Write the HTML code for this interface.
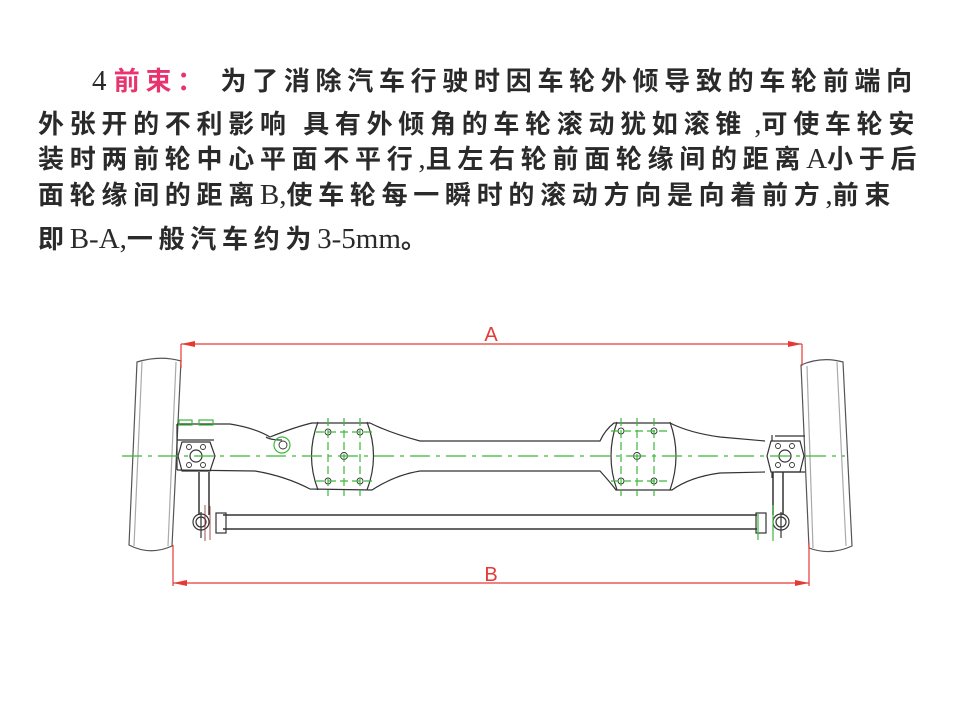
<!DOCTYPE html>
<html><head><meta charset="utf-8"><style>
body{margin:0;width:956px;height:717px;background:#fff;position:relative;overflow:hidden}
.t{position:absolute;left:38px;font-family:"Liberation Serif","Noto Sans CJK SC",serif;font-size:26px;letter-spacing:5.7px;color:#2a2a2a;white-space:nowrap;line-height:30px}
.t .c{font-family:"Noto Sans CJK SC",sans-serif;font-weight:bold}
.s{font-family:"Liberation Serif",serif;font-size:29px;letter-spacing:0}
</style></head><body>
<div class="t" style="top:65px;left:92px"><span class="s">4 </span><span class="c" style="color:#e8336e">前束：</span><span class="c"> 为了消除汽车行驶时因车轮外倾导致的车轮前端向</span></div>
<div class="t" style="top:108px"><span class="c">外张开的不利影响 具有外倾角的车轮滚动犹如滚锥</span><span class="s"> ,</span><span class="c">可使车轮安</span></div>
<div class="t" style="top:143px"><span class="c">装时两前轮中心平面不平行</span><span class="s">,</span><span class="c">且左右轮前面轮缘间的距离</span><span class="s">A</span><span class="c">小于后</span></div>
<div class="t" style="top:179px"><span class="c">面轮缘间的距离</span><span class="s">B,</span><span class="c">使车轮每一瞬时的滚动方向是向着前方</span><span class="s">,</span><span class="c">前束</span></div>
<div class="t" style="top:223px"><span class="c">即</span><span class="s">B-A,</span><span class="c">一般汽车约为</span><span class="s">3-5mm</span><span class="c">。</span></div>
<svg width="956" height="717" style="position:absolute;left:0;top:0" fill="none" stroke-width="1.2">
<g stroke="#555">
<path d="M137,362 Q160,355 181,361 L172,546 Q150,556 129,545 Z"/>
<path d="M142,362 L134,546 M176,362 L168,546" stroke="#aaa"/>
<path d="M801,365 Q822,356 843,362 L852,546 Q830,556 809,548 Z"/>
<path d="M807,366 L813,548 M837,362 L846,546" stroke="#aaa"/>
</g>
<g stroke="#e53935" fill="#e53935">
<line x1="181" y1="344" x2="802" y2="344"/>
<line x1="181" y1="344" x2="181" y2="368"/>
<line x1="802" y1="344" x2="802" y2="366"/>
<path d="M181,344 l14,-3 v6z M802,344 l-14,-3 v6z" stroke="none"/>
<line x1="173" y1="583" x2="809" y2="583"/>
<line x1="173" y1="545" x2="173" y2="586"/>
<line x1="809" y1="543" x2="809" y2="586"/>
<path d="M173,583 l14,-3 v6z M809,583 l-14,-3 v6z" stroke="none"/>
</g>
<text x="491" y="341" font-family="Liberation Sans" font-size="20" fill="#e53935" text-anchor="middle">A</text>
<text x="491" y="581" font-family="Liberation Sans" font-size="20" fill="#e53935" text-anchor="middle">B</text>
<g stroke="#333">
<path d="M177,424 L230,424 Q255,428 270,437 Q295,427 312,423 L370,423 Q390,433 420,441 L600,441 Q605,430 614,423 L670,423 Q690,433 720,437 L765,441"/>
<path d="M177,470 L255,471 Q285,476 310,489 L372,490 Q395,475 420,471 L600,471 Q610,482 616,490 L672,490 Q690,477 720,473 L765,472"/>
<path d="M177,424 V470 M177,440 H214 M266,437 Q270,440 282,440"/>
<path d="M318,422 Q305,456 318,490 M367,422 Q380,456 367,490 M617,422 Q605,456 617,490 M670,422 Q682,456 670,490"/>
<path d="M182,442 L210,442 L215,456 L210,471 L182,471 L178,456Z"/>
<path d="M771,441 L800,441 L804,456 L800,472 L771,472 L767,456Z"/>
<circle cx="196" cy="456" r="6"/><circle cx="785" cy="456" r="6"/>
<g stroke-width="0.9">
<circle cx="189" cy="447" r="2.5"/><circle cx="203" cy="447" r="2.5"/><circle cx="189" cy="465" r="2.5"/><circle cx="203" cy="465" r="2.5"/>
<circle cx="778" cy="446" r="2.5"/><circle cx="792" cy="446" r="2.5"/><circle cx="778" cy="465" r="2.5"/><circle cx="792" cy="465" r="2.5"/>
<circle cx="328" cy="432" r="3"/><circle cx="360" cy="432" r="3"/><circle cx="328" cy="481" r="3"/><circle cx="360" cy="481" r="3"/><circle cx="344" cy="456" r="3.5"/>
<circle cx="621" cy="431" r="3"/><circle cx="654" cy="431" r="3"/><circle cx="621" cy="481" r="3"/><circle cx="654" cy="481" r="3"/><circle cx="637" cy="456" r="3.5"/>
<circle cx="283" cy="445" r="4"/>
</g>
<path d="M775,436 H805 M775,472 H805 M772,435 V441 M772,472 V478"/>
<path d="M199,472 V515 M209,472 V515 M773,472 V515 M783,472 V515" stroke-width="1.5"/>
<path d="M223,515 H757 M223,529 H757" stroke-width="1.5"/>
<rect x="216" y="513" width="10" height="20"/><rect x="756" y="513" width="10" height="20"/>
<circle cx="201" cy="522" r="8"/><circle cx="201" cy="522" r="5"/>
<circle cx="781" cy="522" r="8"/><circle cx="781" cy="522" r="5"/>
<path d="M201,512 V538 M781,512 V538"/>
</g>
<path d="M210,506 V540 M205,505 V541" stroke="#8b2a2a" stroke-width="0.8"/>
<g stroke="#3cb83c">
<line x1="122" y1="456" x2="845" y2="456" stroke-dasharray="20,6,4,6"/>
<path d="M316,432 H372 M316,481 H372 M328,418 V496 M360,418 V496 M344,418 V496" stroke-dasharray="8,4"/>
<path d="M611,431 H668 M611,481 H668 M621,418 V496 M654,418 V496 M637,418 V496" stroke-dasharray="8,4"/>
<circle cx="282" cy="445" r="8"/>
<rect x="179" y="420" width="13" height="5"/><rect x="199" y="420" width="14" height="5"/>
<path d="M758,514 V540 M773,505 V541"/>
</g>
</svg>
</body></html>
